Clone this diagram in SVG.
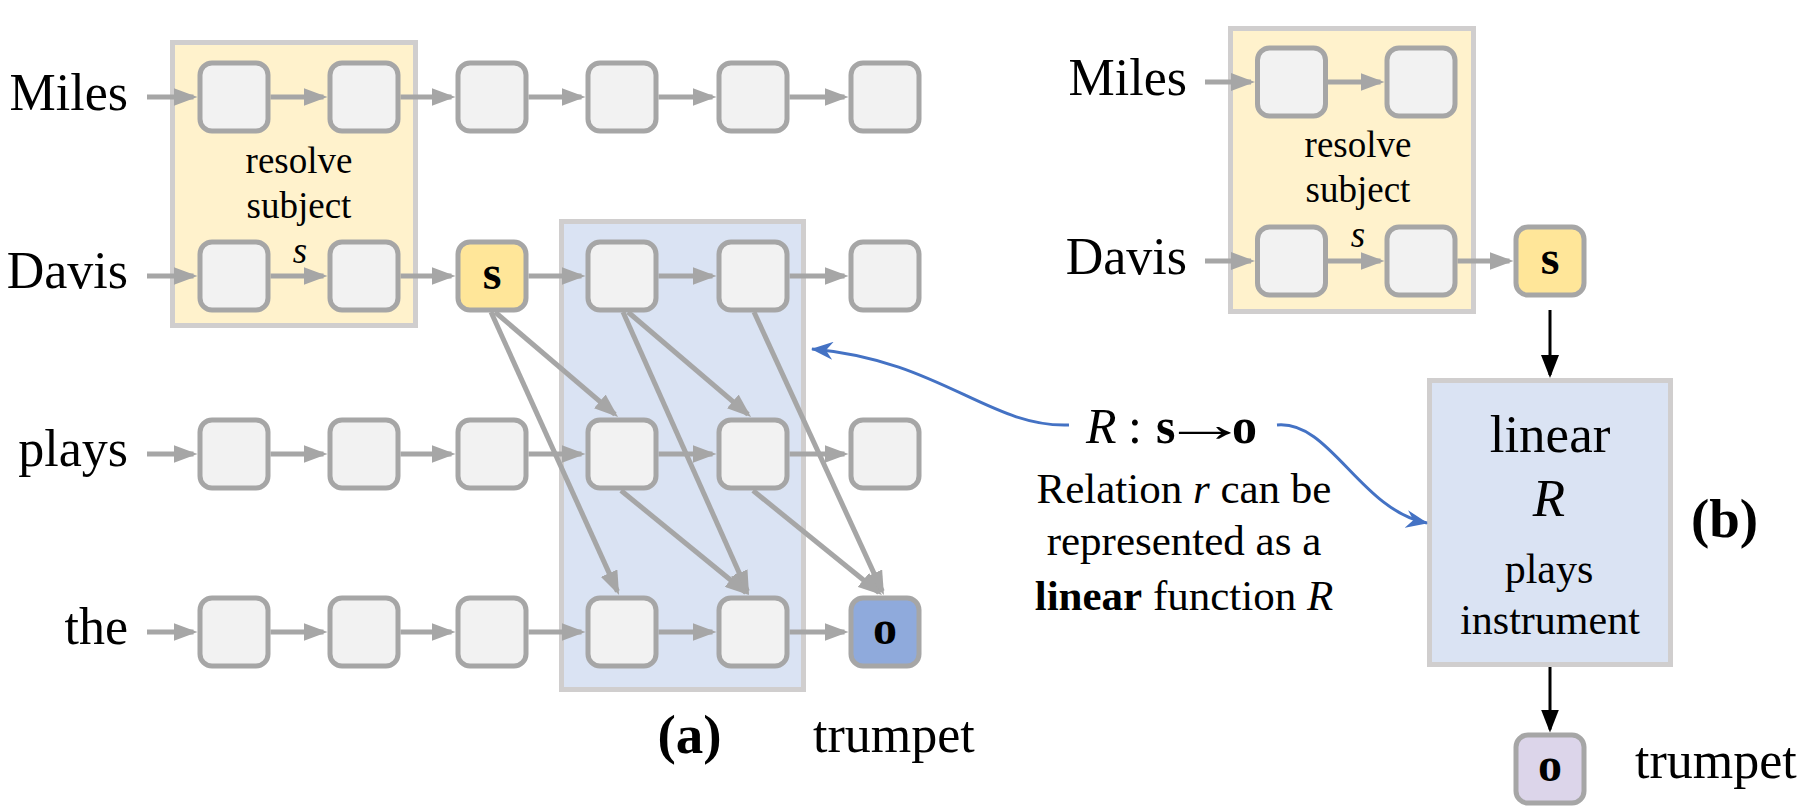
<svg xmlns="http://www.w3.org/2000/svg" width="1804" height="812" viewBox="0 0 1804 812">
<defs>
<style>
text{font-family:"Liberation Serif","Times New Roman","DejaVu Serif",serif;fill:#000}
.lbl{font-size:52px}
.small{font-size:37px}
.mid{font-size:43px}
.node{fill:#f2f2f2;stroke:#a6a6a6;stroke-width:5}
.subj{fill:#ffe699}
.obj{fill:#8faadc}
.objb{fill:#dcd5ea}
.ybox{fill:#fff2cc;stroke:#d0cece;stroke-width:5}
.bbox{fill:#dae3f3;stroke:#d0cece;stroke-width:5}
.ga{stroke:#a6a6a6;stroke-width:5;fill:none;marker-end:url(#ah)}
.ka{stroke:#000;stroke-width:3;fill:none;marker-end:url(#kh)}
.bl{stroke:#4472c4;stroke-width:3;fill:none;marker-end:url(#bh)}
.nt{font-size:48px;font-weight:bold;text-anchor:middle}
.c{text-anchor:middle}
.e{text-anchor:end}
</style>
<marker id="ah" markerUnits="userSpaceOnUse" markerWidth="24" markerHeight="18" refX="20" refY="9" orient="auto"><path d="M0,0 L24,9 L0,18 z" fill="#a6a6a6"/></marker>
<marker id="kh" markerUnits="userSpaceOnUse" markerWidth="23" markerHeight="18" refX="20" refY="9" orient="auto"><path d="M0,0 L23,9 L0,18 z" fill="#000"/></marker>
<marker id="bh" markerUnits="userSpaceOnUse" markerWidth="22" markerHeight="18" refX="21" refY="9" orient="auto"><path d="M0,0 L22,9 L0,18 L7,9 z" fill="#4472c4"/></marker>
</defs>
<rect width="1804" height="812" fill="#fff"/>

<!-- panel (a) boxes -->
<g id="resolve-box-a">
<rect class="ybox" x="172.5" y="42.5" width="243" height="283"/>
<text class="small c" x="299" y="173">resolve</text>
<text class="small c" x="299" y="218">subject</text>
<text class="small c" x="300" y="263" font-style="italic">s</text>
</g>
<g id="relation-box-a"><rect class="bbox" x="561.5" y="221.5" width="242" height="468"/></g>

<!-- panel (b) boxes -->
<g id="resolve-box-b">
<rect class="ybox" x="1230.5" y="28.5" width="243" height="283"/>
<text class="small c" x="1358" y="157">resolve</text>
<text class="small c" x="1358" y="202">subject</text>
<text class="small c" x="1358" y="247" font-style="italic">s</text>
</g>
<g id="linear-R-box">
<rect class="bbox" x="1429.5" y="380.5" width="241" height="284"/>
<text class="c" x="1550" y="452" font-size="53">linear</text>
<text class="c" x="1549" y="516" font-size="53" font-style="italic">R</text>
<text class="c" x="1549" y="583" font-size="42">plays</text>
<text class="c" x="1550" y="634" font-size="42">instrument</text>
</g>

<g id="connectors">
<!-- row Miles (a) -->
<line class="ga" x1="147" y1="97" x2="193.5" y2="97"/>
<line class="ga" x1="270.5" y1="97" x2="323.5" y2="97"/>
<line class="ga" x1="400.5" y1="97" x2="451.5" y2="97"/>
<line class="ga" x1="528.5" y1="97" x2="581.5" y2="97"/>
<line class="ga" x1="658.5" y1="97" x2="712.5" y2="97"/>
<line class="ga" x1="789.5" y1="97" x2="844.5" y2="97"/>
<!-- row Davis (a) -->
<line class="ga" x1="147" y1="276" x2="193.5" y2="276"/>
<line class="ga" x1="270.5" y1="276" x2="323.5" y2="276"/>
<line class="ga" x1="400.5" y1="276" x2="451.5" y2="276"/>
<line class="ga" x1="528.5" y1="276" x2="581.5" y2="276"/>
<line class="ga" x1="658.5" y1="276" x2="712.5" y2="276"/>
<line class="ga" x1="789.5" y1="276" x2="844.5" y2="276"/>
<!-- row plays (a) -->
<line class="ga" x1="147" y1="454" x2="193.5" y2="454"/>
<line class="ga" x1="270.5" y1="454" x2="323.5" y2="454"/>
<line class="ga" x1="400.5" y1="454" x2="451.5" y2="454"/>
<line class="ga" x1="528.5" y1="454" x2="581.5" y2="454"/>
<line class="ga" x1="658.5" y1="454" x2="712.5" y2="454"/>
<line class="ga" x1="789.5" y1="454" x2="844.5" y2="454"/>
<!-- row the (a) -->
<line class="ga" x1="147" y1="632" x2="193.5" y2="632"/>
<line class="ga" x1="270.5" y1="632" x2="323.5" y2="632"/>
<line class="ga" x1="400.5" y1="632" x2="451.5" y2="632"/>
<line class="ga" x1="528.5" y1="632" x2="581.5" y2="632"/>
<line class="ga" x1="658.5" y1="632" x2="712.5" y2="632"/>
<line class="ga" x1="789.5" y1="632" x2="844.5" y2="632"/>
<!-- diagonals (a) -->
<line class="ga" x1="495" y1="312" x2="615" y2="414.4"/>
<line class="ga" x1="491" y1="312" x2="617.4" y2="591.4"/>
<line class="ga" x1="628" y1="312" x2="748" y2="414.4"/>
<line class="ga" x1="623" y1="312" x2="747.4" y2="591.3"/>
<line class="ga" x1="754" y1="312" x2="882.3" y2="591.4"/>
<line class="ga" x1="621" y1="490.5" x2="745.9" y2="592.5"/>
<line class="ga" x1="753" y1="490.5" x2="878.9" y2="592.5"/>
<!-- panel (b) rows -->
<line class="ga" x1="1205" y1="82" x2="1251" y2="82"/>
<line class="ga" x1="1328" y1="82" x2="1380.5" y2="82"/>
<line class="ga" x1="1205" y1="261" x2="1251" y2="261"/>
<line class="ga" x1="1328" y1="261" x2="1380.5" y2="261"/>
<line class="ga" x1="1457.5" y1="261" x2="1509.5" y2="261"/>
<!-- panel (b) vertical -->
<line class="ka" x1="1550" y1="310" x2="1550" y2="375"/>
<line class="ka" x1="1550" y1="667" x2="1550" y2="729.5"/>
<!-- blue curves -->
<path class="bl" d="M1069,425 C990,428 940,360 812,349"/>
<path class="bl" d="M1277,425 C1330,420 1360,510 1427,523"/>
</g>

<!-- row labels (a) -->
<g id="labels-a">
<text class="lbl e" x="128" y="110">Miles</text>
<text class="lbl e" x="128" y="288">Davis</text>
<text class="lbl e" x="128" y="466">plays</text>
<text class="lbl e" x="128" y="644">the</text>
<text x="689.5" y="753" font-size="55" font-weight="bold" text-anchor="middle">(a)</text>
<text class="lbl" x="813" y="752">trumpet</text>
</g>
<g id="labels-b">
<text class="lbl e" x="1187" y="95">Miles</text>
<text class="lbl e" x="1187" y="274">Davis</text>
<text x="1724.5" y="537" font-size="55" font-weight="bold" text-anchor="middle">(b)</text>
<text class="lbl" x="1635" y="778">trumpet</text>
</g>
<g id="relation-label">
<text y="443" font-size="50"><tspan x="1086" font-style="italic">R</tspan><tspan x="1128">:</tspan><tspan x="1156" font-weight="bold">s</tspan></text>
<text transform="translate(1205,441) scale(1.75,1)" font-size="50" text-anchor="middle">→</text>
<text x="1232" y="443" font-size="50" font-weight="bold">o</text>
<text class="mid c" x="1184" y="503">Relation <tspan font-style="italic">r</tspan> can be</text>
<text class="mid c" x="1184" y="555">represented as a</text>
<text class="mid c" x="1184" y="610"><tspan font-weight="bold">linear</tspan> function <tspan font-style="italic">R</tspan></text>
</g>

<!-- nodes (a) -->
<g id="a-miles-1"><rect class="node" x="200" y="63" width="68" height="68" rx="12"/></g>
<g id="a-miles-2"><rect class="node" x="330" y="63" width="68" height="68" rx="12"/></g>
<g id="a-miles-3"><rect class="node" x="458" y="63" width="68" height="68" rx="12"/></g>
<g id="a-miles-4"><rect class="node" x="588" y="63" width="68" height="68" rx="12"/></g>
<g id="a-miles-5"><rect class="node" x="719" y="63" width="68" height="68" rx="12"/></g>
<g id="a-miles-6"><rect class="node" x="851" y="63" width="68" height="68" rx="12"/></g>

<g id="a-davis-1"><rect class="node" x="200" y="242" width="68" height="68" rx="12"/></g>
<g id="a-davis-2"><rect class="node" x="330" y="242" width="68" height="68" rx="12"/></g>
<g id="a-davis-s"><rect class="node subj" x="458" y="242" width="68" height="68" rx="12"/><text class="nt" x="492" y="289">s</text></g>
<g id="a-davis-4"><rect class="node" x="588" y="242" width="68" height="68" rx="12"/></g>
<g id="a-davis-5"><rect class="node" x="719" y="242" width="68" height="68" rx="12"/></g>
<g id="a-davis-6"><rect class="node" x="851" y="242" width="68" height="68" rx="12"/></g>

<g id="a-plays-1"><rect class="node" x="200" y="420" width="68" height="68" rx="12"/></g>
<g id="a-plays-2"><rect class="node" x="330" y="420" width="68" height="68" rx="12"/></g>
<g id="a-plays-3"><rect class="node" x="458" y="420" width="68" height="68" rx="12"/></g>
<g id="a-plays-4"><rect class="node" x="588" y="420" width="68" height="68" rx="12"/></g>
<g id="a-plays-5"><rect class="node" x="719" y="420" width="68" height="68" rx="12"/></g>
<g id="a-plays-6"><rect class="node" x="851" y="420" width="68" height="68" rx="12"/></g>

<g id="a-the-1"><rect class="node" x="200" y="598" width="68" height="68" rx="12"/></g>
<g id="a-the-2"><rect class="node" x="330" y="598" width="68" height="68" rx="12"/></g>
<g id="a-the-3"><rect class="node" x="458" y="598" width="68" height="68" rx="12"/></g>
<g id="a-the-4"><rect class="node" x="588" y="598" width="68" height="68" rx="12"/></g>
<g id="a-the-5"><rect class="node" x="719" y="598" width="68" height="68" rx="12"/></g>
<g id="a-the-o"><rect class="node obj" x="851" y="598" width="68" height="68" rx="12"/><text class="nt" x="885" y="644">o</text></g>

<!-- nodes (b) -->
<g id="b-miles-1"><rect class="node" x="1257.5" y="48" width="68" height="68" rx="12"/></g>
<g id="b-miles-2"><rect class="node" x="1387" y="48" width="68" height="68" rx="12"/></g>
<g id="b-davis-1"><rect class="node" x="1257.5" y="227" width="68" height="68" rx="12"/></g>
<g id="b-davis-2"><rect class="node" x="1387" y="227" width="68" height="68" rx="12"/></g>
<g id="b-s"><rect class="node subj" x="1516" y="227" width="68" height="68" rx="12"/><text class="nt" x="1550" y="274">s</text></g>
<g id="b-o"><rect class="node objb" x="1516" y="735" width="68" height="68" rx="12"/><text class="nt" x="1550" y="781">o</text></g>
</svg>
